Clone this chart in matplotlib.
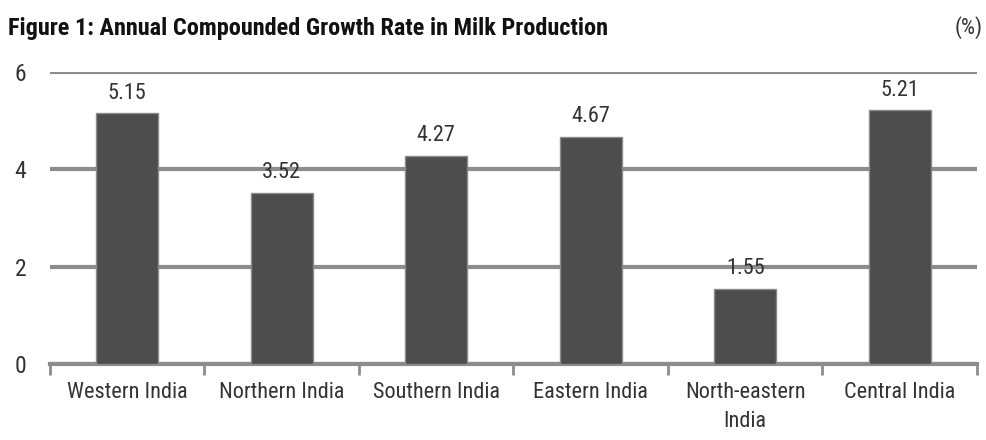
import matplotlib.pyplot as plt
import numpy as np

regions = ['Western India', 'Northern India', 'Southern India', 'Eastern India',
           'North-eastern\nIndia', 'Central India']
growth = [5.15, 3.52, 4.27, 4.67, 1.55, 5.21]
yticks = [0, 2, 4, 6]

plt.rcParams['font.family'] = ['Roboto Condensed', 'Roboto', 'DejaVu Sans']

fig = plt.figure(figsize=(9.87, 4.4), dpi=100)
ax = fig.add_axes([50/987, 1-364/440, 927/987, 292/440])

x = np.arange(len(regions))
ax.bar(x, growth, width=0.4, color='#4d4d4d', edgecolor='#8a8a8a', linewidth=1, zorder=3)
for xi, v in zip(x, growth):
    ax.text(xi, v + 0.2, '%.2f' % v, ha='center', va='bottom', fontsize=16, color='#333333')

ax.set_xlim(-0.5, len(regions) - 0.5)
ax.set_ylim(0, 6)
ax.set_yticks(yticks)
ax.set_yticklabels([str(t) for t in yticks], fontsize=17, color='#333333')
ax.tick_params(axis='y', length=0, pad=17)
ax.yaxis.grid(True, color='#8c8c8c', linewidth=3, zorder=0)

ax.set_xticks(np.arange(len(regions) + 1) - 0.5)
ax.set_xticklabels([])
ax.tick_params(axis='x', length=8, width=2, color='#8c8c8c', direction='out')
for xi, name in zip(x, regions):
    ax.text(xi, -0.38, name, ha='center', va='top', fontsize=16, color='#333333',
            linespacing=1.45)

for s in ['top', 'right', 'left']:
    ax.spines[s].set_visible(False)
ax.spines['bottom'].set_color('#8c8c8c')
ax.spines['bottom'].set_linewidth(3)

fig.text(8/987, 1-28/440, 'Figure 1: Annual Compounded Growth Rate in Milk Production',
         fontsize=17.5, fontweight='bold', va='center', ha='left', color='#111111')
fig.text(983/987, 1-28/440, '(%)', fontsize=16, va='center', ha='right', color='#333333')

fig.savefig('out.png', dpi=100)
